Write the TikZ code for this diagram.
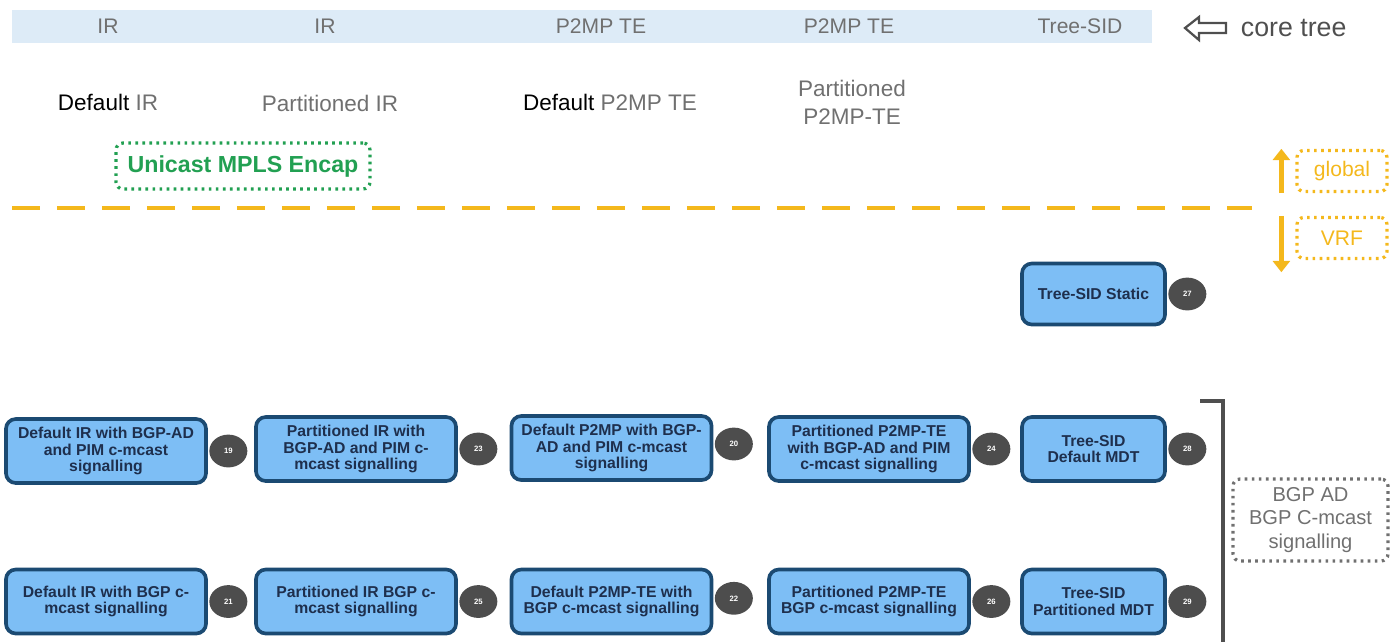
\documentclass[tikz,border=0pt]{standalone}
\usepackage{fontspec}
\setmainfont{Liberation Sans}
\usetikzlibrary{positioning,arrows.meta,shapes.geometric}

\definecolor{barblue}{HTML}{DDEBF7}
\definecolor{txtgray}{HTML}{707070}
\definecolor{encgreen}{HTML}{22A052}
\definecolor{gold}{HTML}{F4B81C}
\definecolor{boxfill}{HTML}{7DBEF5}
\definecolor{boxline}{HTML}{1B4A72}
\definecolor{boxtext}{HTML}{1E2F4D}
\definecolor{badge}{HTML}{4D4D4D}
\definecolor{bracketgray}{HTML}{4F4F4F}

\tikzset{
  mvpn/.style={draw=boxline, line width=2.6pt, fill=boxfill, rounded corners=7pt,
    text=boxtext, font=\fontsize{11.2}{11.8}\selectfont\bfseries, align=center,
    minimum width=5cm, minimum height=1.6cm, inner sep=1pt},
  sidbox/.style={mvpn, minimum width=3.575cm},
  num/.style={ellipse, fill=badge, text=white, font=\fontsize{5.5}{6}\selectfont\bfseries,
    minimum width=0.95cm, minimum height=0.82cm, inner sep=0pt},
  hdr/.style={text=txtgray, font=\fontsize{15}{18}\selectfont},
  sub/.style={text=txtgray, font=\fontsize{16}{20}\selectfont, align=center},
  dotbox/.style={rounded corners=5pt, line width=2.3pt, dash pattern=on 1.9pt off 3.1pt, align=center},
  updown/.style={gold, line width=3.6pt, -{Triangle[width=12pt,length=8pt]}},
}

\begin{document}
\begin{tikzpicture}[x=0.025cm,y=-0.025cm]
  \useasboundingbox (0,0) rectangle (1392,641);
  % core tree bar
  \fill[barblue] (12,10) rectangle (1152,43);
  \node[hdr] (c1) at (108,26) {IR};
  \node[hdr] (c2) at (325,26) {IR};
  \node[hdr] (c3) at (601,26) {P2MP TE};
  \node[hdr] (c4) at (849,26) {P2MP TE};
  \node[hdr] (c5) at (1080,26) {Tree-SID};
  \draw[bracketgray, line width=1.6pt] (1185,28) -- (1199,17) -- (1199,23) -- (1226,23)
    -- (1226,33) -- (1199,33) -- (1199,40) -- cycle;
  \node[anchor=west, text=bracketgray, font=\fontsize{19}{22}\selectfont] (core) at (1236,28) {core tree};

  % profile names
  \node[sub] (p1) at (108,102) {\textcolor{black}{Default} IR};
  \node[sub] (p2) at (330,103) {Partitioned IR};
  \node[sub] (p3) at (610,102) {\textcolor{black}{Default} P2MP TE};
  \node[sub] (p4) at (852,102) {Partitioned\\P2MP-TE};

  \node[dotbox, draw=encgreen, text=encgreen, font=\fontsize{16.5}{19}\selectfont\bfseries,
    minimum width=6.35cm, minimum height=1.15cm] (encap) at (243,166) {Unicast MPLS Encap};

  % global / VRF split
  \draw[gold, line width=3.5pt, dash pattern=on 20pt off 12pt] (12,208) -- (1252,208);
  \node[dotbox, draw=gold, text=gold, font=\fontsize{15}{18}\selectfont,
    minimum width=2.25cm, minimum height=1.03cm] (glob) at (1342,171) {global};
  \node[dotbox, draw=gold, text=gold, font=\fontsize{15}{18}\selectfont,
    minimum width=2.25cm, minimum height=1.03cm] (vrf) at (1342,238) {VRF};
  \draw[updown] ([xshift=-0.35cm]glob.south west) -- ([xshift=-0.35cm]glob.north west);
  \draw[updown, shorten >=-0.3cm] ([xshift=-0.35cm]vrf.north west) -- ([xshift=-0.35cm]vrf.south west);

  % profiles
  \node[sidbox, minimum height=1.525cm] (s27) at (1093.5,294) {Tree-SID Static};
  \node[num, right=0.03cm of s27] (n27) {27};

  \node[mvpn] (s19) at (106,451) {Default IR with BGP-AD\\and PIM c-mcast\\signalling};
  \node[num, right=0.03cm of s19] (n19) {19};
  \node[mvpn] (s23) at (356,449) {Partitioned IR with\\BGP-AD and PIM c-\\mcast signalling};
  \node[num, right=0.03cm of s23] (n23) {23};
  \node[mvpn] (s20) at (611.5,448) {Default P2MP with BGP-\\AD and PIM c-mcast\\signalling};
  \node[num, right=0.03cm of s20, yshift=0.1cm] (n20) {20};
  \node[mvpn] (s24) at (869,449) {Partitioned P2MP-TE\\with BGP-AD and PIM\\c-mcast signalling};
  \node[num, right=0.03cm of s24] (n24) {24};
  \node[sidbox] (s28) at (1093.5,449) {Tree-SID\\Default MDT};
  \node[num, right=0.03cm of s28] (n28) {28};

  \node[mvpn] (s21) at (106,601.5) {Default IR with BGP c-\\mcast signalling};
  \node[num, right=0.03cm of s21] (n21) {21};
  \node[mvpn] (s25) at (356,601.5) {Partitioned IR BGP c-\\mcast signalling};
  \node[num, right=0.03cm of s25] (n25) {25};
  \node[mvpn] (s22) at (611.5,601.5) {Default P2MP-TE with\\BGP c-mcast signalling};
  \node[num, right=0.03cm of s22, yshift=0.08cm] (n22) {22};
  \node[mvpn] (s26) at (869,601.5) {Partitioned P2MP-TE\\BGP c-mcast signalling};
  \node[num, right=0.03cm of s26] (n26) {26};
  \node[sidbox] (s29) at (1093.5,601.5) {Tree-SID\\Partitioned MDT};
  \node[num, right=0.03cm of s29] (n29) {29};

  % BGP signalling bracket
  \draw[bracketgray, line width=2.2pt] (1200,401) -| (1223,650);
  \node[dotbox, draw=txtgray, text=txtgray, font=\fontsize{14.3}{16.7}\selectfont,
    minimum width=3.875cm, minimum height=2.05cm] (bgp) at (1310.5,520) {BGP AD\\BGP C-mcast\\signalling};
\end{tikzpicture}
\end{document}
